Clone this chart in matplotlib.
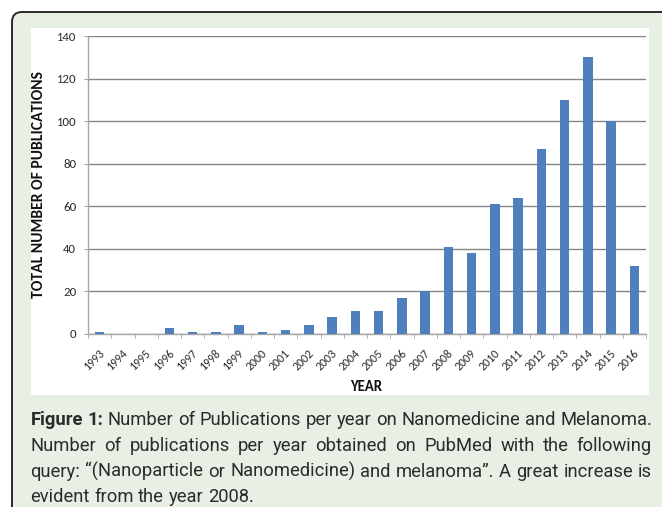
import matplotlib
matplotlib.use('Agg')
import matplotlib.pyplot as plt
from matplotlib import font_manager
from matplotlib.patches import FancyBboxPatch, Rectangle
from matplotlib.transforms import ScaledTranslation
import numpy as np

# ---------------- data ----------------
years = [str(y) for y in range(1993, 2017)]
counts = [1, 0, 0, 3, 1, 1, 4, 1, 2, 4, 8, 11, 11, 17, 20, 41, 38, 61, 64, 87, 110, 130, 100, 32]
y_ticks = [0, 20, 40, 60, 80, 100, 120, 140]
x_label = 'YEAR'
y_label = 'TOTAL NUMBER OF PUBLICATIONS'
caption_bold = ['Figure', '1:']
caption_lines = [
    'Number of Publications per year on Nanomedicine and Melanoma.',
    'Number of publications per year obtained on PubMed with the following',
    'query: \u201c(Nanoparticle or Nanomedicine) and melanoma\u201d. A great increase is',
    'evident from the year 2008.',
]

# ---------------- fonts ----------------
avail = {f.name for f in font_manager.fontManager.ttflist}
chart_font = 'Carlito' if 'Carlito' in avail else 'Lato'
if 'Liberation Sans Narrow' in avail:
    cap_font = 'Liberation Sans Narrow'
elif 'Roboto' in avail:
    cap_font = 'Roboto'
else:
    cap_font = 'Liberation Sans'

W, H = 662, 507
fig = plt.figure(figsize=(W / 100, H / 100), dpi=100)
fig.patch.set_facecolor('white')


def fx(px):
    return px / W


def fy(py):
    return (H - py) / H


# outer rounded panel (only top/left border visible)
panel = FancyBboxPatch((0.12, -0.5), 7.2, 4.95 + 0.5,
                       boxstyle='round,pad=0,rounding_size=0.1',
                       transform=fig.dpi_scale_trans,
                       facecolor='#e8f0e5', edgecolor='#2a2a2a', linewidth=1.4,
                       zorder=-2)
fig.patches.append(panel)

# white chart area
chart_bg = Rectangle((fx(31), fy(395)), fx(649) - fx(31), fy(28) - fy(395),
                     transform=fig.transFigure, facecolor='white', edgecolor='none',
                     zorder=-1)
fig.patches.append(chart_bg)

# ---------------- axes ----------------
ax = fig.add_axes([fx(88), fy(334), fx(646) - fx(88), fy(36) - fy(334)])
ax.set_zorder(2)
ax.set_facecolor('none')
x = np.arange(len(years))
ax.bar(x, counts, width=0.4, color='#4f80bd', zorder=3)
ax.set_xlim(-0.5, len(years) - 0.5)
ax.set_ylim(0, 140)
ax.set_yticks(y_ticks)
ax.set_yticklabels([str(v) for v in y_ticks], fontsize=9.2, family=chart_font, color='#2a2a2a')
ax.grid(axis='y', color='#858585', linewidth=1.0, zorder=1)
ax.set_axisbelow(True)
for s in ['top', 'right']:
    ax.spines[s].set_visible(False)
for s in ['left', 'bottom']:
    ax.spines[s].set_color('#a6a6a6')
    ax.spines[s].set_linewidth(1.0)
ax.tick_params(axis='y', length=3, color='#a6a6a6', pad=5.5)

ax.set_xticks(x)
ax.set_xticks(np.arange(-0.5, len(years), 1.0), minor=True)
ax.tick_params(axis='x', which='major', length=0, pad=2)
ax.tick_params(axis='x', which='minor', length=3, color='#a6a6a6')
labels = ax.set_xticklabels(years, rotation=45, ha='right', va='top',
                            rotation_mode='anchor', fontsize=8.6,
                            family=chart_font, color='#2a2a2a')
off = ScaledTranslation(-1 / 100, -11 / 100, fig.dpi_scale_trans)
for lab in labels:
    lab.set_transform(lab.get_transform() + off)

renderer = fig.canvas.get_renderer()

# axis titles
fig.text(fx(366), fy(387), x_label, ha='center', va='center',
         fontsize=10.5, fontweight='bold', family=chart_font, color='#111111')
yl = fig.text(fx(39), fy(184), y_label, ha='center', va='center', rotation=90,
              fontsize=9.5, fontweight='bold', family=chart_font, color='#111111')
h = yl.get_window_extent(renderer).height
yl.set_fontsize(9.5 * 228 / h)

# ---------------- caption ----------------
x0, x1 = 30.5, 652.0
baselines = [425, 451, 477, 502]
cap_color = '#2b2b2b'

# fit caption font size so the last (unjustified) line is ~222 px long
probe = fig.text(0, 0, caption_lines[3], fontsize=12, family=cap_font)
cap_size = 12 * 222.5 / probe.get_window_extent(renderer).width
probe.remove()


def space_width():
    sp = fig.text(0, 0, 'a a', fontsize=cap_size, family=cap_font)
    sp2 = fig.text(0, 0, 'aa', fontsize=cap_size, family=cap_font)
    g = sp.get_window_extent(renderer).width - sp2.get_window_extent(renderer).width
    sp.remove()
    sp2.remove()
    return g


def place_line(tokens, base, justify):
    texts = []
    for word, bold in tokens:
        t = fig.text(0, fy(base), word, ha='left', va='baseline', fontsize=cap_size,
                     family=cap_font, fontweight='bold' if bold else 'normal',
                     color=cap_color)
        texts.append(t)
    widths = [t.get_window_extent(renderer).width for t in texts]
    if justify and len(texts) > 1:
        gap = (x1 - x0 - sum(widths)) / (len(texts) - 1)
    else:
        gap = space_width()
    pos = x0
    for t, w in zip(texts, widths):
        t.set_x(fx(pos))
        pos += w + gap


line_tokens = []
first = [(w, True) for w in caption_bold] + [(w, False) for w in caption_lines[0].split(' ')]
line_tokens.append(first)
for ln in caption_lines[1:]:
    line_tokens.append([(w, False) for w in ln.split(' ')])

for i, toks in enumerate(line_tokens):
    place_line(toks, baselines[i], justify=(i < 3))

fig.savefig('out.png', dpi=100, facecolor=fig.get_facecolor())
